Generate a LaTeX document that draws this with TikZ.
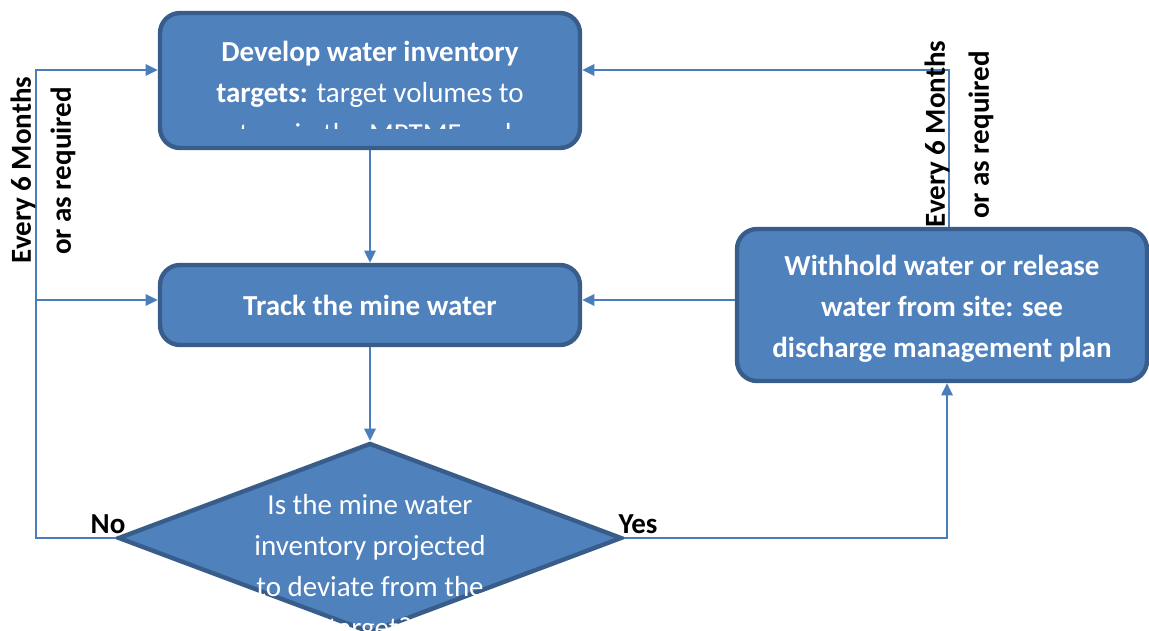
\documentclass[tikz,border=0pt]{standalone}
\usepackage{fontspec}
\setmainfont{Carlito}
\usepackage{xcolor}
\usetikzlibrary{arrows.meta, positioning, calc, shapes.geometric}
\definecolor{boxfill}{HTML}{4F81BD}
\definecolor{boxline}{HTML}{385D8A}
\definecolor{flowline}{HTML}{4A7EBB}
\newcommand{\flowfont}{\fontsize{16.5}{23.3}\selectfont}

\begin{document}
\begin{tikzpicture}[x=0.02cm, y=-0.02cm,
    stepbox/.style={draw=boxline, line width=2.5pt, fill=boxfill, rounded corners=0.4cm, inner sep=0pt},
    decbox/.style={draw=boxline, line width=2.5pt, fill=boxfill, diamond, inner sep=0pt},
    boxtext/.style={text=white, align=center, font=\flowfont, inner sep=0pt},
    conn/.style={draw=flowline, line width=1.1pt, -{Triangle[length=7pt,width=6.5pt]}},
    lbl/.style={font=\flowfont\bfseries, inner sep=0pt}]
    \clip (0,0) rectangle (1149,631);
    % Kaesten
    \node[stepbox, minimum width=8.4cm, minimum height=2.7cm] (dev) at (370,80.5) {};
    \node[stepbox, minimum width=8.4cm, minimum height=1.6cm] (track) at (370,305) {};
    \node[stepbox, minimum width=8.2cm, minimum height=3.04cm] (hold) at (942,305) {};
    \node[decbox, minimum width=10.08cm, minimum height=3.8cm] (dec) at (370,538) {};
    % Texte (abgeschnitten wie im Original)
    \begin{scope}
      \clip (170,20) rectangle (570,129);
      \node[boxtext, anchor=north] (devtxt) at (370,41)
        {\textbf{Develop water inventory}\\\textbf{targets:} target volumes to\\store in the MPTMF and};
    \end{scope}
    \node[boxtext, font=\flowfont\bfseries] (tracktxt) at (track) {Track the mine water};
    \node[boxtext, font=\flowfont\bfseries] (holdtxt) at (942,309)
      {Withhold water or release\\water from site: see\\discharge management plan};
    \node[boxtext, anchor=north] (dectxt) at (370,494)
      {Is the mine water\\inventory projected\\to deviate from the\\target?};
    % Hilfspunkte
    \coordinate (lt) at (36,70);
    \coordinate (lm) at (36,300);
    \coordinate (rt) at (949,70);
    % Verbindungen
    \draw[conn] (dev.south) -- (track.north);
    \draw[conn] (track.south) -- (dec.north);
    \draw[conn] (dec.west) -| (lt) -- (dev.west |- lt);
    \draw[conn] (lm) -- (track.west |- lm);
    \draw[conn] (dec.east) -| ($(hold.south)+(5,0)$);
    \draw[conn] (hold.west |- lm) -- (track.east |- lm);
    \draw[conn] ($(hold.north)+(7,0)$) |- (dev.east |- rt);
    % Beschriftungen
    \node[lbl, rotate=90] (every1) at (23,170) {Every 6 Months};
    \node[lbl, rotate=90] (req1) at (63,171) {or as required};
    \node[lbl, rotate=90] (every2) at (937,134) {Every 6 Months};
    \node[lbl, rotate=90] (req2) at (981,135) {or as required};
    \node[lbl] (no) at (108,524) {No};
    \node[lbl] (yes) at (638,524) {Yes};
  \end{tikzpicture}
\end{document}
